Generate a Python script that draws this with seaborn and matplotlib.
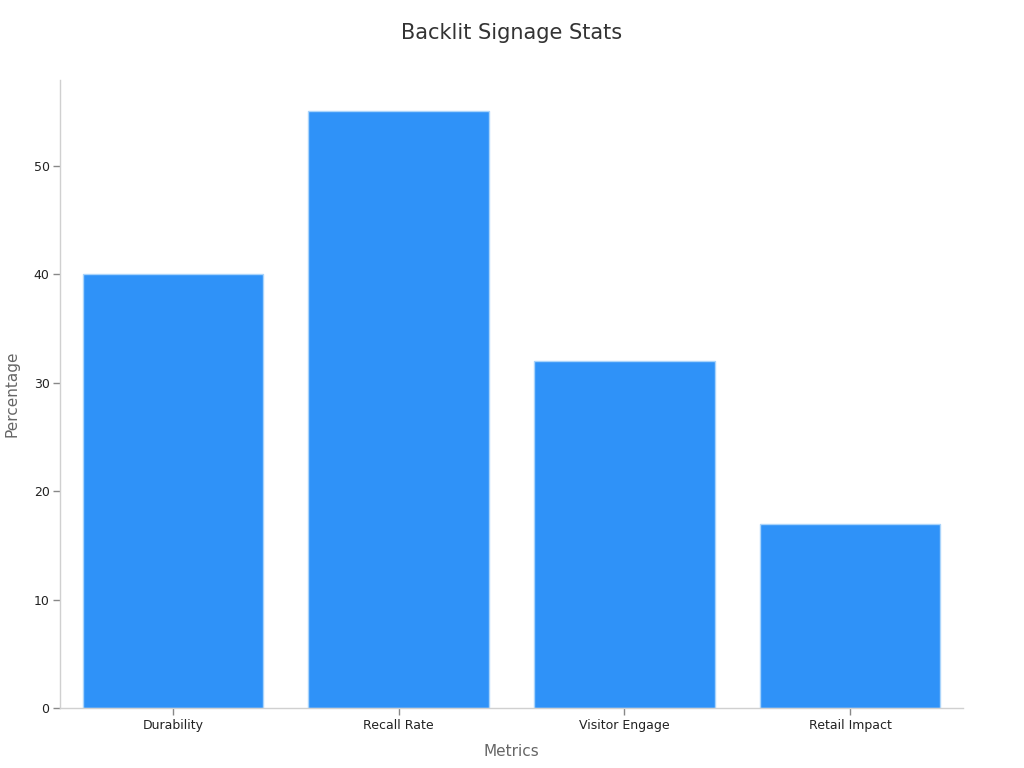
import matplotlib
matplotlib.use("Agg")
import matplotlib.pyplot as plt
import seaborn as sns
import pandas as pd

categories = ["Durability", "Recall Rate", "Visitor Engage", "Retail Impact"]
values = [40, 55, 32, 17]

sns.set_style("white")
plt.rcParams['font.family'] = ['DejaVu Sans']

df = pd.DataFrame({"Metrics": categories, "Percentage": values})

fig = plt.figure(figsize=(10.24, 7.68), dpi=100)
ax = fig.add_axes([0.0586, 0.078, 0.8818, 0.818])
sns.barplot(data=df, x="Metrics", y="Percentage", color="#2f92f8", saturation=1,
            width=0.8, edgecolor="#a9d4fb", linewidth=1, ax=ax)
ax.set_xlim(-0.5, 3.5)
ax.set_ylim(0, 57.9)
ax.set_yticks([0, 10, 20, 30, 40, 50])
for s in ["top", "right"]:
    ax.spines[s].set_visible(False)
for s in ["left", "bottom"]:
    ax.spines[s].set_color("#d0d0d0")
    ax.spines[s].set_linewidth(1)
ax.tick_params(axis="both", length=5, width=1, color="#888888", labelsize=9, labelcolor="#222222",
               bottom=True, left=True, pad=2.5)
ax.set_xlabel("Metrics", fontsize=11, color="#666666", labelpad=9)
ax.set_ylabel("Percentage", fontsize=11, color="#666666", labelpad=10)
fig.suptitle("Backlit Signage Stats", fontsize=15, color="#333333", y=0.97)
fig.savefig("out.png", dpi=100)
